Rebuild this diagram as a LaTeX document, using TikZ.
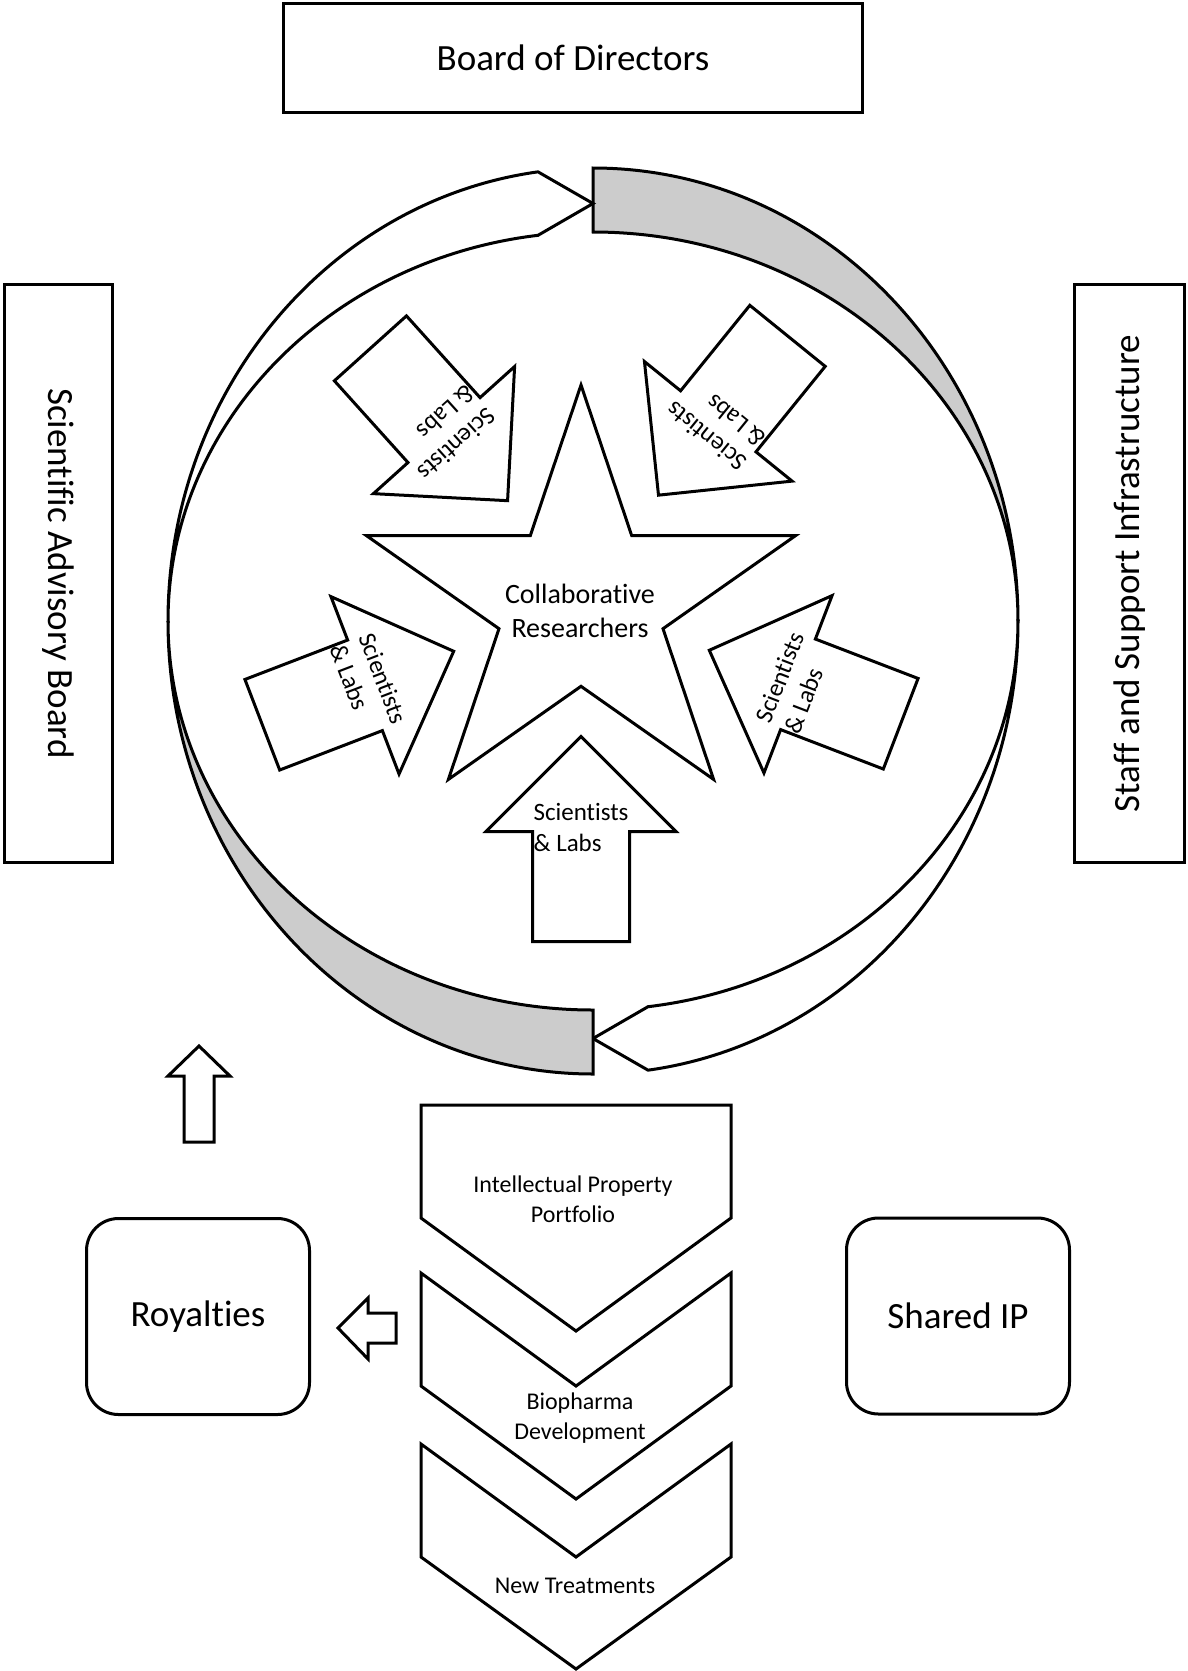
\documentclass[tikz,border=0pt]{standalone}
\usepackage{fontspec}
\setmainfont{Carlito}[Ligatures=NoCommon]
\usetikzlibrary{positioning}

\begin{document}
\begin{tikzpicture}[x=1pt, y=-1pt,
    box/.style = {draw, line width=3pt, inner sep=0pt, font=\fontsize{37}{44}\selectfont},
    soft/.style = {box, rounded corners=32pt, minimum width=223pt, minimum height=196pt},
    outline/.style = {draw, line width=3pt, fill=white},
    back/.style = {outline, fill=black!20},
    lab/.style = {align=left, inner sep=0pt, font=\fontsize{25}{31}\selectfont},
    chevtext/.style = {align=center, inner sep=0pt, font=\fontsize{24}{30}\selectfont},
    labarrow/.pic = {
        \draw[outline] (0,-102.5) -- (95,-7.5) -- (48.5,-7.5) -- (48.5,102.5)
            -- (-48.5,102.5) -- (-48.5,-7.5) -- (-95,-7.5) -- cycle;
        \node[lab, transform shape] (-text) at (0,-11.5) {Scientists\\\& Labs};
    }]
    \useasboundingbox (0,0) rectangle (1188,1671);

    % twisted ring
    \draw[back] (593,168) arc[start angle=270, end angle=360, x radius=425, y radius=453]
        arc[start angle=0, end angle=-90, x radius=425, y radius=389] -- cycle;
    \draw[outline] (1018,621) arc[start angle=0, end angle=82.56, x radius=425, y radius=453]
        -- (593,1038.5) -- (648,1006.7)
        arc[start angle=82.56, end angle=0, x radius=425, y radius=389] -- cycle;
    \draw[back] (593,1074) arc[start angle=90, end angle=180, x radius=425, y radius=453]
        arc[start angle=180, end angle=90, x radius=425, y radius=389] -- cycle;
    \draw[outline] (168,621) arc[start angle=180, end angle=262.56, x radius=425, y radius=453]
        -- (593,203.5) -- (538,235.3)
        arc[start angle=262.56, end angle=180, x radius=425, y radius=389] -- cycle;

    % star
    \draw[outline] (581,385) -- (631.7,535.6) -- (795.6,535.6) -- (663,628.7)
        -- (713.6,779.4) -- (581,686.3) -- (448.4,779.4) -- (499,628.7)
        -- (366.4,535.6) -- (530.3,535.6) -- cycle;
    \node[align=center, inner sep=0pt, font=\fontsize{28}{34}\selectfont] (collab) at (580,611)
        {Collaborative\\Researchers};

    \pic (sl1) at (581,839) {labarrow};
    \pic[rotate=-69] (sl2) at (358,688) {labarrow};
    \pic[rotate=69] (sl3) at (805,687) {labarrow};
    \pic[rotate=222] (sl4) at (439,424.5) {labarrow};
    \pic[rotate=141] (sl5) at (723,415.5) {labarrow};

    % boxes
    \node[box, minimum width=579pt, minimum height=109pt] (board) at (573,58) {Board of Directors};
    \node[box, rotate=-90, minimum width=578pt, minimum height=108pt] (sab) at (58.5,573.5)
        {Scientific Advisory Board};
    \node[box, rotate=90, minimum width=578pt, minimum height=110pt] (staff) at (1129.5,573.5)
        {Staff and Support Infrastructure};
    \node[soft] (royal) at (198,1316.5) {Royalties};
    \node[soft] (shared) at (958,1316) {Shared IP};

    % small arrows
    \draw[outline] (199,1046) -- (230,1076) -- (214,1076) -- (214,1142) -- (184,1142)
        -- (184,1076) -- (168,1076) -- cycle;
    \draw[outline] (338,1328) -- (368,1298) -- (368,1313) -- (396,1313) -- (396,1343)
        -- (368,1343) -- (368,1359) -- cycle;

    % chevrons
    \draw[outline] (421,1105) -- (731,1105) -- (731,1218) -- (576,1331) -- (421,1218) -- cycle;
    \draw[outline] (421,1273) -- (576,1386) -- (731,1273) -- (731,1386) -- (576,1499)
        -- (421,1386) -- cycle;
    \draw[outline] (421,1444) -- (576,1557) -- (731,1444) -- (731,1557) -- (576,1669)
        -- (421,1557) -- cycle;
    \node[chevtext] (ip) at (573,1199) {Intellectual Property\\Portfolio};
    \node[chevtext] (bio) at (580,1418) {Biopharma\\Development};
    \node[chevtext] (treat) at (575,1586) {New Treatments};
\end{tikzpicture}
\end{document}
